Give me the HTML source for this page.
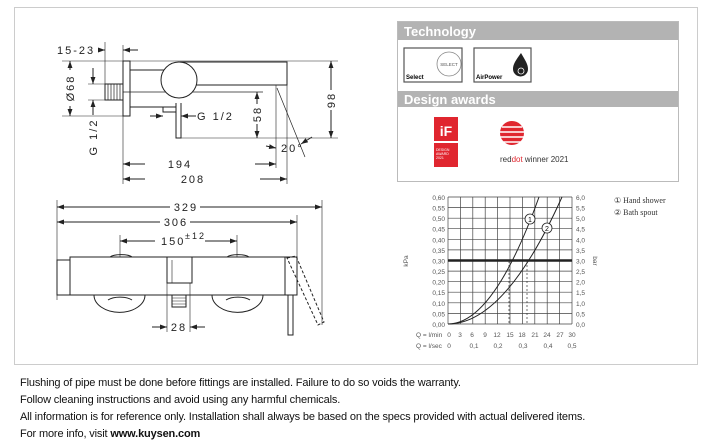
<!DOCTYPE html>
<html><head><meta charset="utf-8"><style>
body{margin:0;background:#fff;width:709px;height:444px;overflow:hidden;position:relative;font-family:"Liberation Sans",sans-serif}
.t{position:absolute;left:20px;font-size:11px;color:#111;white-space:nowrap;letter-spacing:-0.15px}
</style></head><body>
<svg width="709" height="444" style="position:absolute;left:0;top:0" font-family="Liberation Sans, sans-serif">
<defs><marker id="a" viewBox="0 0 10 10" refX="10" refY="5" markerWidth="7" markerHeight="7" orient="auto-start-reverse"><path d="M0,1.5L10,5L0,8.5z" fill="#222"/></marker></defs>
<rect x="14.5" y="7.5" width="683" height="357" fill="none" stroke="#ccc"/>
<g stroke="#222" fill="none" stroke-width="1">
<!-- top-left drawing -->
<line x1="62" y1="61" x2="338" y2="61" stroke-width="0.6"/>
<rect x="123" y="61" width="7" height="55" fill="#fff"/>
<line x1="62" y1="116" x2="123" y2="116" stroke-width="0.6"/>
<rect x="105" y="84" width="18" height="16"/>
<path d="M108,84v16M111,84v16M114,84v16M117,84v16M120,84v16" stroke-width="0.7"/>
<line x1="130" y1="70" x2="165" y2="70"/><line x1="130" y1="107" x2="170" y2="107"/>
<line x1="123" y1="92" x2="263" y2="92" stroke-width="0.8"/>
<path d="M180,62H287V85H180"/>
<circle cx="179" cy="80" r="18" fill="#fff"/>
<path d="M176,103V138H181V103"/>
<rect x="163" y="107" width="13" height="5"/>
<line x1="181" y1="138" x2="338" y2="138" stroke-width="0.6"/>
<line x1="123" y1="45" x2="123" y2="184" stroke-width="0.6"/>
<line x1="105" y1="42" x2="105" y2="84" stroke-width="0.6"/>
<line x1="276" y1="85" x2="276" y2="168" stroke-width="0.6"/>
<line x1="287" y1="85" x2="287" y2="184" stroke-width="0.6"/>
<line x1="277" y1="88" x2="305" y2="157" stroke-width="0.7"/>
<line x1="88" y1="84" x2="105" y2="84" stroke-width="0.6"/><line x1="88" y1="100" x2="105" y2="100" stroke-width="0.6"/>
<line x1="98" y1="50" x2="105" y2="50" marker-end="url(#a)"/><line x1="138" y1="50" x2="123" y2="50" marker-end="url(#a)"/>
<line x1="70" y1="70" x2="70" y2="61" marker-end="url(#a)"/><line x1="70" y1="106" x2="70" y2="116" marker-end="url(#a)"/>
<line x1="93" y1="68" x2="93" y2="84" marker-end="url(#a)"/><line x1="93" y1="115" x2="93" y2="100" marker-end="url(#a)"/>
<line x1="150" y1="116" x2="163" y2="116" marker-end="url(#a)"/><line x1="196" y1="116" x2="181" y2="116" marker-end="url(#a)"/>
<line x1="257" y1="104" x2="257" y2="92" marker-end="url(#a)"/><line x1="257" y1="124" x2="257" y2="138" marker-end="url(#a)"/>
<line x1="331" y1="90" x2="331" y2="61" marker-end="url(#a)"/><line x1="331" y1="110" x2="331" y2="138" marker-end="url(#a)"/>
<line x1="266" y1="146" x2="276" y2="148" marker-end="url(#a)"/><line x1="312" y1="137" x2="301" y2="144" marker-end="url(#a)"/>
<line x1="145" y1="164" x2="123" y2="164" marker-end="url(#a)"/><line x1="255" y1="164" x2="276" y2="164" marker-end="url(#a)"/>
<line x1="145" y1="179" x2="123" y2="179" marker-end="url(#a)"/><line x1="260" y1="179" x2="287" y2="179" marker-end="url(#a)"/>
<!-- bottom drawing -->
<line x1="57" y1="200" x2="57" y2="300" stroke-width="0.6"/>
<line x1="322" y1="200" x2="322" y2="325" stroke-width="0.6"/>
<line x1="297" y1="215" x2="297" y2="257" stroke-width="0.6"/>
<line x1="120" y1="235" x2="120" y2="258" stroke-width="0.6"/><line x1="237" y1="235" x2="237" y2="258" stroke-width="0.6"/>
<line x1="170" y1="207" x2="57" y2="207" marker-end="url(#a)"/><line x1="200" y1="207" x2="322" y2="207" marker-end="url(#a)"/>
<line x1="160" y1="222" x2="57" y2="222" marker-end="url(#a)"/><line x1="190" y1="222" x2="297" y2="222" marker-end="url(#a)"/>
<line x1="155" y1="241" x2="120" y2="241" marker-end="url(#a)"/><line x1="205" y1="241" x2="237" y2="241" marker-end="url(#a)"/>
<path d="M94,295A25,17 0 0 0 145,295"/><path d="M108,300A14,6 0 0 1 132,300"/>
<path d="M212,295A25,17 0 0 0 263,295"/><path d="M226,300A14,6 0 0 1 250,300"/>
<path d="M110,257A12,4 0 0 1 132,257"/><path d="M227,257A12,4 0 0 1 249,257"/>
<rect x="70" y="257" width="215" height="38" fill="#fff"/>
<rect x="57" y="260" width="13" height="35"/>
<rect x="285" y="257" width="12" height="38"/>
<path d="M167,257V283H192V257"/><path d="M172,283V260" stroke-width="0.6"/>
<path d="M172,295V307H186V295"/><path d="M172,298H186M172,301H186M172,304H186" stroke-width="0.6"/>
<line x1="167" y1="283" x2="167" y2="332" stroke-width="0.6"/><line x1="190" y1="283" x2="190" y2="332" stroke-width="0.6"/>
<line x1="152" y1="327" x2="167" y2="327" marker-end="url(#a)"/><line x1="205" y1="327" x2="190" y2="327" marker-end="url(#a)"/>
<rect x="288" y="295" width="5" height="40"/>
<path d="M287,258L296,256L324,322L318,325Z" stroke-dasharray="3,2"/>
<!-- right panel box -->
<rect x="397.5" y="21.5" width="281" height="160" stroke="#bbb"/>
</g>
<g font-size="11" fill="#222" letter-spacing="2">
<text x="57" y="54">15-23</text>
<text x="197" y="120">G 1/2</text>
<text x="281" y="152">20°</text>
<text x="180" y="168" text-anchor="middle">194</text>
<text x="193" y="183" text-anchor="middle">208</text>
<text transform="translate(74,88) rotate(-90)" text-anchor="middle">Ø68</text>
<text transform="translate(97,137) rotate(-90)" text-anchor="middle">G 1/2</text>
<text transform="translate(261,114) rotate(-90)" text-anchor="middle">58</text>
<text transform="translate(335,100) rotate(-90)" text-anchor="middle">98</text>
<text x="186" y="211" text-anchor="middle">329</text>
<text x="176" y="226" text-anchor="middle">306</text>
<text x="161" y="245">150</text><text x="185" y="239" font-size="9">±12</text>
<text x="179" y="331" text-anchor="middle">28</text>
</g>
<!-- right panel -->
<rect x="398" y="22" width="280" height="18" fill="#b3b3b3"/>
<text x="404" y="36" font-size="13" font-weight="bold" fill="#fff">Technology</text>
<rect x="404" y="48" width="58" height="34" fill="#fff" stroke="#555" stroke-width="1.2"/>
<circle cx="449" cy="64" r="12" fill="none" stroke="#888" stroke-width="0.8"/>
<text x="449" y="66" font-size="4.5" text-anchor="middle" fill="#555">SELECT</text>
<text x="406" y="79" font-size="6" font-weight="bold">Select</text>
<rect x="474" y="48" width="57" height="34" fill="#fff" stroke="#555" stroke-width="1.2"/>
<path d="M521,53C516,60 513,64 513,69A7,7 0 0 0 528,69C528,64 525,60 521,53Z" fill="#222"/>
<circle cx="521" cy="71" r="3" fill="none" stroke="#fff" stroke-width="0.8"/>
<text x="476" y="79" font-size="6" font-weight="bold">AirPower</text>
<rect x="398" y="91" width="280" height="16" fill="#b3b3b3"/>
<text x="404" y="104" font-size="13" font-weight="bold" fill="#fff">Design awards</text>
<rect x="434" y="117" width="24" height="24" fill="#e0262f"/>
<text x="446" y="136" font-size="14" font-weight="bold" fill="#fff" text-anchor="middle">iF</text>
<rect x="434" y="143" width="24" height="24" fill="#e0262f"/>
<text x="436" y="151" font-size="3.5" fill="#fff">DESIGN</text><text x="436" y="155" font-size="3.5" fill="#fff">AWARD</text><text x="436" y="159" font-size="3.5" fill="#fff">2021</text>
<circle cx="512" cy="133" r="12" fill="#e0262f"/>
<path d="M502,127H522M500,132H524M500,137H524M502,142H522" stroke="#fff" stroke-width="1.6"/>
<text x="500" y="162" font-size="8" fill="#333">red<tspan fill="#e0262f">dot</tspan> winner 2021</text>
<!-- chart -->
<g stroke="#444" stroke-width="0.7">
<path d="M448,197V324M460.4,197V324M472.8,197V324M485.2,197V324M497.6,197V324M510,197V324M522.4,197V324M534.8,197V324M547.2,197V324M559.6,197V324M572,197V324"/>
<path d="M448,197H572M448,207.6H572M448,218.2H572M448,228.7H572M448,239.3H572M448,249.9H572M448,271.1H572M448,281.7H572M448,292.2H572M448,302.8H572M448,313.4H572M448,324H572"/>
</g>
<line x1="448" y1="260.5" x2="572" y2="260.5" stroke="#222" stroke-width="2.5"/>
<path d="M448,324Q493.5,324 539,197" fill="none" stroke="#222" stroke-width="1"/>
<path d="M448,324Q505,324 562,197" fill="none" stroke="#222" stroke-width="1"/>
<path d="M509,261V324M527,261V324" stroke="#333" stroke-width="0.7" stroke-dasharray="2,2"/>
<circle cx="530" cy="219" r="5" fill="#fff" stroke="#222" stroke-width="0.8"/><text x="530" y="222" font-size="7" text-anchor="middle">1</text>
<circle cx="547" cy="228" r="5" fill="#fff" stroke="#222" stroke-width="0.8"/><text x="547" y="231" font-size="7" text-anchor="middle">2</text>
<g font-size="6.5" fill="#555">
<g text-anchor="end">
<text x="445" y="200">0,60</text><text x="445" y="210.6">0,55</text><text x="445" y="221.2">0,50</text><text x="445" y="231.7">0,45</text><text x="445" y="242.3">0,40</text><text x="445" y="252.9">0,35</text><text x="445" y="263.5">0,30</text><text x="445" y="274.1">0,25</text><text x="445" y="284.7">0,20</text><text x="445" y="295.2">0,15</text><text x="445" y="305.8">0,10</text><text x="445" y="316.4">0,05</text><text x="445" y="327">0,00</text>
</g>
<text x="576" y="200">6,0</text><text x="576" y="210.6">5,5</text><text x="576" y="221.2">5,0</text><text x="576" y="231.7">4,5</text><text x="576" y="242.3">4,0</text><text x="576" y="252.9">3,5</text><text x="576" y="263.5">3,0</text><text x="576" y="274.1">2,5</text><text x="576" y="284.7">2,0</text><text x="576" y="295.2">1,5</text><text x="576" y="305.8">1,0</text><text x="576" y="316.4">0,5</text><text x="576" y="327">0,0</text>
<text transform="translate(408,261) rotate(-90)" text-anchor="middle">kPa</text>
<text transform="translate(593,261) rotate(90)" text-anchor="middle">bar</text>
<text x="416" y="337">Q = l/min</text>
<text x="416" y="348">Q = l/sec</text>
<g text-anchor="middle">
<text x="449" y="337">0</text><text x="460" y="337">3</text><text x="472" y="337">6</text><text x="485" y="337">9</text><text x="497" y="337">12</text><text x="510" y="337">15</text><text x="522" y="337">18</text><text x="535" y="337">21</text><text x="547" y="337">24</text><text x="560" y="337">27</text><text x="572" y="337">30</text>
<text x="449" y="348">0</text><text x="474" y="348">0,1</text><text x="498" y="348">0,2</text><text x="523" y="348">0,3</text><text x="548" y="348">0,4</text><text x="572" y="348">0,5</text>
</g>
</g>
<g font-family="Liberation Serif, serif" font-size="8" fill="#333">
<text x="614" y="203">① Hand shower</text>
<text x="614" y="215">② Bath spout</text>
</g>
</svg>
<div class="t" style="top:377px">Flushing of pipe must be done before fittings are installed. Failure to do so voids the warranty.</div>
<div class="t" style="top:394px">Follow cleaning instructions and avoid using any harmful chemicals.</div>
<div class="t" style="top:411px">All information is for reference only. Installation shall always be based on the specs provided with actual delivered items.</div>
<div class="t" style="top:428px">For more info, visit <b>www.kuysen.com</b></div>
</body></html>
